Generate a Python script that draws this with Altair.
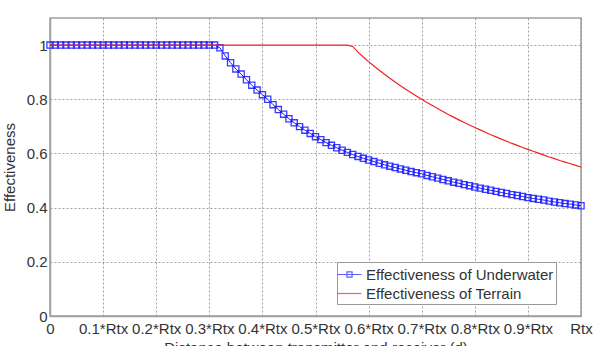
import altair as alt
import pandas as pd

# distance grid (fractions of Rtx)
d_values = [round(i * 0.01, 2) for i in range(101)]

# Effectiveness of Underwater
underwater = [1.0] * 32 + [
    0.990, 0.960, 0.935, 0.912, 0.893, 0.872, 0.852, 0.834, 0.817, 0.800,
    0.780, 0.762, 0.745, 0.728, 0.713, 0.699, 0.686, 0.674, 0.662, 0.651,
    0.640, 0.630, 0.621, 0.612, 0.604, 0.596, 0.589, 0.582, 0.576, 0.570,
    0.564, 0.558, 0.553, 0.548, 0.543, 0.538, 0.533, 0.529, 0.525, 0.519,
    0.514, 0.509, 0.504, 0.499, 0.494, 0.490, 0.485, 0.481, 0.476, 0.472,
    0.468, 0.464, 0.460, 0.456, 0.452, 0.448, 0.445, 0.441, 0.437, 0.434,
    0.431, 0.428, 0.424, 0.421, 0.418, 0.415, 0.413, 0.410, 0.407,
]

# Effectiveness of Terrain
terrain = [1.0] * 57 + [
    0.995, 0.974, 0.956, 0.939, 0.923, 0.907, 0.892, 0.878, 0.864, 0.850,
    0.837, 0.824, 0.812, 0.800, 0.788, 0.777, 0.766, 0.755, 0.744, 0.734,
    0.724, 0.714, 0.705, 0.696, 0.687, 0.678, 0.669, 0.661, 0.653, 0.645,
    0.637, 0.630, 0.622, 0.615, 0.608, 0.601, 0.594, 0.587, 0.581, 0.574,
    0.568, 0.562, 0.556, 0.550,
]

series_names = ["Effectiveness of Underwater", "Effectiveness of Terrain"]
series_colors = ["#1a1aff", "#ee2222"]
legend_shapes = [
    "M-1.25,0L1.25,0M-0.27,-0.27L0.27,-0.27L0.27,0.27L-0.27,0.27Z",
    "M-1.25,0L1.25,0",
]
x_ticks = [round(i * 0.1, 1) for i in range(11)]
y_ticks = [0, 0.2, 0.4, 0.6, 0.8, 1.0]

df = pd.DataFrame({
    "d": d_values * 2,
    "v": underwater + terrain,
    "series": [series_names[0]] * len(d_values) + [series_names[1]] * len(d_values),
})

FONT = "Liberation Sans"
FS = 15

x_enc = alt.X(
    "d:Q",
    scale=alt.Scale(domain=[0, 1], nice=False),
    axis=alt.Axis(
        values=x_ticks,
        labelExpr="datum.value == 0 ? '0' : (datum.value >= 0.999 ? 'Rtx' : format(datum.value, '.1f') + '*Rtx')",
        title="Distance between transmitter and receiver (d)",
        titleY=24,
        titleBaseline="top",
        labelPadding=5,
        labelFlush=False,
        labelOverlap=False,
    ),
)
y_enc = alt.Y(
    "v:Q",
    scale=alt.Scale(domain=[0, 1.1], nice=False),
    axis=alt.Axis(
        values=y_ticks,
        labelExpr="datum.value == 0 ? '0' : (datum.value >= 0.999 ? '1' : format(datum.value, '.1f'))",
        title="Effectiveness",
        titleX=-41,
        titleY=149,
        titleAngle=-90,
        titleAlign="center",
        titleBaseline="middle",
        labelPadding=3,
    ),
)

base = alt.Chart(df)

uw_line = base.transform_filter(alt.datum.series == series_names[0]).mark_line(
    strokeWidth=1, color=series_colors[0]
).encode(x=x_enc, y=y_enc)

uw_pts = base.transform_filter(alt.datum.series == series_names[0]).mark_point(
    shape="square", size=38, filled=False, strokeWidth=1.3, opacity=0.85, color=series_colors[0]
).encode(x=x_enc, y=y_enc)

tr_line = base.transform_filter(alt.datum.series == series_names[1]).mark_line(
    strokeWidth=1.2, color=series_colors[1]
).encode(x=x_enc, y=y_enc)

legend = alt.Legend(
    title=None,
    orient="none",
    legendX=287,
    legendY=244,
    direction="vertical",
    fillColor="white",
    strokeColor="#999999",
    padding=2,
    symbolSize=361,
    symbolStrokeWidth=1.2,
    labelFontSize=FS,
    labelFont=FONT,
    labelColor="#333333",
    labelOffset=6,
    labelLimit=0,
    rowPadding=0,
)

legend_layer = base.transform_filter("false").mark_point(filled=False, strokeWidth=1).encode(
    x=x_enc,
    y=y_enc,
    color=alt.Color("series:N", scale=alt.Scale(domain=series_names, range=series_colors), legend=legend),
    shape=alt.Shape("series:N", scale=alt.Scale(domain=series_names, range=legend_shapes), legend=legend),
)

chart = alt.layer(uw_line, uw_pts, tr_line, legend_layer).properties(
    width=531,
    height=298,
    autosize="none",
    padding={"left": 50, "top": 18, "right": 18, "bottom": 30},
    background="white",
).configure_view(
    stroke="#a0a0a0", strokeWidth=1.5
).configure_axis(
    domainColor="#a0a0a0",
    domainWidth=1.5,
    grid=True,
    gridColor="#888888",
    gridDash=[2, 2],
    gridWidth=0.8,
    ticks=False,
    labelFont=FONT,
    labelFontSize=FS,
    labelColor="#333333",
    titleFont=FONT,
    titleFontSize=FS,
    titleFontWeight="normal",
    titleColor="#333333",
)

chart.save("out.html", embed_options={"renderer": "svg", "actions": False})
